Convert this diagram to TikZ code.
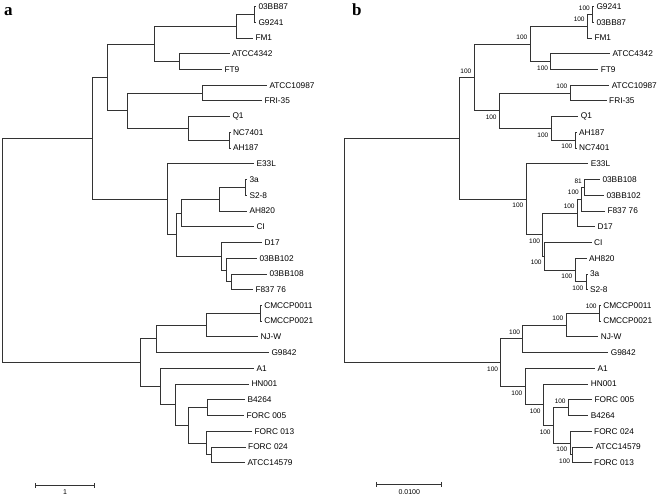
\documentclass[tikz,border=0pt]{standalone}
\usepackage{fontspec}
\setmainfont{Liberation Sans}
\newfontfamily\titlefont{Liberation Serif}
\begin{document}
\begin{tikzpicture}[x=1pt,y=-1pt,
  br/.style={draw=black!80, line width=0.8pt},
  lf/.style={anchor=west, inner xsep=2.5pt, inner ysep=0pt, outer sep=0pt, font=\fontsize{8.3}{9}\selectfont},
  bs/.style={anchor=east, inner sep=0pt, font=\fontsize{6.5}{7}\selectfont},
  scl/.style={inner sep=0pt, font=\fontsize{7}{8}\selectfont},
  ttl/.style={anchor=base west, inner sep=0pt, font=\titlefont\bfseries\fontsize{17}{17}\selectfont}]
\useasboundingbox (0,0) rectangle (661,498);

% ---------------- titles
\node[ttl] (ta) at (4,15) {a};
\node[ttl] (tb) at (352,15) {b};

% ================= panel a: leaves
\node[lf] (a03BB87) at (256,6.5) {03BB87};
\node[lf] (aG9241) at (256,22.23) {G9241};
\node[lf] (aFM1) at (253,37.96) {FM1};
\node[lf] (aATCC4342) at (229.5,53.69) {ATCC4342};
\node[lf] (aFT9) at (222,69.42) {FT9};
\node[lf] (aATCC10987) at (267,85.15) {ATCC10987};
\node[lf] (aFRI35) at (262,100.88) {FRI-35};
\node[lf] (aQ1) at (230,116.61) {Q1};
\node[lf] (aNC7401) at (230.5,132.34) {NC7401};
\node[lf] (aAH187) at (230.5,148.07) {AH187};
\node[lf] (aE33L) at (254,163.8) {E33L};
\node[lf] (a3a) at (247,179.53) {3a};
\node[lf] (aS28) at (247,195.26) {S2-8};
\node[lf] (aAH820) at (247,210.99) {AH820};
\node[lf] (aCI) at (254,226.72) {CI};
\node[lf] (aD17) at (262,242.45) {D17};
\node[lf] (a03BB102) at (257,258.18) {03BB102};
\node[lf] (a03BB108) at (267,273.91) {03BB108};
\node[lf] (aF83776) at (253,289.64) {F837 76};
\node[lf] (aCMCCP0011) at (261.8,305.37) {CMCCP0011};
\node[lf] (aCMCCP0021) at (261.8,321.1) {CMCCP0021};
\node[lf] (aNJW) at (258,336.83) {NJ-W};
\node[lf] (aG9842) at (269,352.56) {G9842};
\node[lf] (aA1) at (254,368.29) {A1};
\node[lf] (aHN001) at (249,384.02) {HN001};
\node[lf] (aB4264) at (245,399.75) {B4264};
\node[lf] (aFORC005) at (244,415.48) {FORC 005};
\node[lf] (aFORC013) at (252,431.21) {FORC 013};
\node[lf] (aFORC024) at (245.7,446.94) {FORC 024};
\node[lf] (aATCC14579) at (245,462.67) {ATCC14579};

% panel a: internal nodes
\coordinate (aF) at (254.3,14.4);
\coordinate (aE) at (236.7,26.2);
\coordinate (aD) at (179,61.6);
\coordinate (aC) at (154.5,43.9);
\coordinate (aH) at (202.3,93.0);
\coordinate (aJ) at (229,140.2);
\coordinate (aI) at (188.3,128.4);
\coordinate (aG) at (127.3,110.7);
\coordinate (aB) at (107.2,77.3);
\coordinate (aP) at (245.5,187.4);
\coordinate (aO) at (219.5,199.2);
\coordinate (aM) at (181,213.0);
\coordinate (aN3) at (231.7,281.8);
\coordinate (aN2) at (226,270.0);
\coordinate (aN) at (221.7,256.2);
\coordinate (aL) at (176.7,234.6);
\coordinate (aK) at (167,199.2);
\coordinate (aA) at (92.5,138.2);
\coordinate (aS) at (260.3,313.2);
\coordinate (aR) at (206,325.0);
\coordinate (aQ) at (156.7,338.8);
\coordinate (aW) at (207.7,407.6);
\coordinate (aY) at (211.5,454.8);
\coordinate (aX) at (206.7,443.0);
\coordinate (aV) at (188.3,425.3);
\coordinate (aU) at (175.5,404.7);
\coordinate (aU0) at (160,386.5);
\coordinate (aT) at (140.7,362.6);
\coordinate (aRoot) at (2.5,250.4);

% panel a: branches
\draw[br] (aF) |- (a03BB87.west);
\draw[br] (aF) |- (aG9241.west);
\draw[br] (aE) |- (aF);
\draw[br] (aE) |- (aFM1.west);
\draw[br] (aD) |- (aATCC4342.west);
\draw[br] (aD) |- (aFT9.west);
\draw[br] (aC) |- (aE);
\draw[br] (aC) |- (aD);
\draw[br] (aH) |- (aATCC10987.west);
\draw[br] (aH) |- (aFRI35.west);
\draw[br] (aJ) |- (aNC7401.west);
\draw[br] (aJ) |- (aAH187.west);
\draw[br] (aI) |- (aQ1.west);
\draw[br] (aI) |- (aJ);
\draw[br] (aG) |- (aH);
\draw[br] (aG) |- (aI);
\draw[br] (aB) |- (aC);
\draw[br] (aB) |- (aG);
\draw[br] (aP) |- (a3a.west);
\draw[br] (aP) |- (aS28.west);
\draw[br] (aO) |- (aP);
\draw[br] (aO) |- (aAH820.west);
\draw[br] (aM) |- (aO);
\draw[br] (aM) |- (aCI.west);
\draw[br] (aN3) |- (a03BB108.west);
\draw[br] (aN3) |- (aF83776.west);
\draw[br] (aN2) |- (a03BB102.west);
\draw[br] (aN2) |- (aN3);
\draw[br] (aN) |- (aD17.west);
\draw[br] (aN) |- (aN2);
\draw[br] (aL) |- (aM);
\draw[br] (aL) |- (aN);
\draw[br] (aK) |- (aE33L.west);
\draw[br] (aK) |- (aL);
\draw[br] (aA) |- (aB);
\draw[br] (aA) |- (aK);
\draw[br] (aS) |- (aCMCCP0011.west);
\draw[br] (aS) |- (aCMCCP0021.west);
\draw[br] (aR) |- (aS);
\draw[br] (aR) |- (aNJW.west);
\draw[br] (aQ) |- (aR);
\draw[br] (aQ) |- (aG9842.west);
\draw[br] (aW) |- (aB4264.west);
\draw[br] (aW) |- (aFORC005.west);
\draw[br] (aY) |- (aFORC024.west);
\draw[br] (aY) |- (aATCC14579.west);
\draw[br] (aX) |- (aFORC013.west);
\draw[br] (aX) |- (aY);
\draw[br] (aV) |- (aW);
\draw[br] (aV) |- (aX);
\draw[br] (aU) |- (aHN001.west);
\draw[br] (aU) |- (aV);
\draw[br] (aU0) |- (aA1.west);
\draw[br] (aU0) |- (aU);
\draw[br] (aT) |- (aQ);
\draw[br] (aT) |- (aU0);
\draw[br] (aRoot) |- (aA);
\draw[br] (aRoot) |- (aT);

% panel a: scale bar
\coordinate (sa1) at (35,485.7);
\coordinate (sa2) at (94.3,485.7);
\draw[br] (sa1) -- (sa2);
\draw[br] ([yshift=2.5pt]sa1) -- ([yshift=-2.5pt]sa1);
\draw[br] ([yshift=2.5pt]sa2) -- ([yshift=-2.5pt]sa2);
\node[scl] (sla) at (65,492.5) {1};

% ================= panel b: leaves
\node[lf] (bG9241) at (594,6.5) {G9241};
\node[lf] (b03BB87) at (594,22.23) {03BB87};
\node[lf] (bFM1) at (592,37.96) {FM1};
\node[lf] (bATCC4342) at (610,53.69) {ATCC4342};
\node[lf] (bFT9) at (598.3,69.42) {FT9};
\node[lf] (bATCC10987) at (609.3,85.15) {ATCC10987};
\node[lf] (bFRI35) at (606.7,100.88) {FRI-35};
\node[lf] (bQ1) at (578.3,116.61) {Q1};
\node[lf] (bAH187) at (576.5,132.34) {AH187};
\node[lf] (bNC7401) at (576.5,148.07) {NC7401};
\node[lf] (bE33L) at (588.3,163.8) {E33L};
\node[lf] (b03BB108) at (600,179.53) {03BB108};
\node[lf] (b03BB102) at (604,195.26) {03BB102};
\node[lf] (bF83776) at (605,210.99) {F837 76};
\node[lf] (bD17) at (595,226.72) {D17};
\node[lf] (bCI) at (591.7,242.45) {CI};
\node[lf] (bAH820) at (586.7,258.18) {AH820};
\node[lf] (b3a) at (587.5,273.91) {3a};
\node[lf] (bS28) at (587.5,289.64) {S2-8};
\node[lf] (bCMCCP0011) at (600.8,305.37) {CMCCP0011};
\node[lf] (bCMCCP0021) at (600.8,321.1) {CMCCP0021};
\node[lf] (bNJW) at (598.3,336.83) {NJ-W};
\node[lf] (bG9842) at (608.3,352.56) {G9842};
\node[lf] (bA1) at (595,368.29) {A1};
\node[lf] (bHN001) at (588.3,384.02) {HN001};
\node[lf] (bFORC005) at (592,399.75) {FORC 005};
\node[lf] (bB4264) at (588.3,415.48) {B4264};
\node[lf] (bFORC024) at (591.7,431.21) {FORC 024};
\node[lf] (bATCC14579) at (593.3,446.94) {ATCC14579};
\node[lf] (bFORC013) at (591.7,462.67) {FORC 013};

% panel b: internal nodes
\coordinate (bF) at (592.5,14.4);
\coordinate (bE) at (587.3,26.2);
\coordinate (bD) at (550.7,61.6);
\coordinate (bC) at (530,43.9);
\coordinate (bH) at (570,93.0);
\coordinate (bJ) at (575,140.2);
\coordinate (bI) at (551,128.4);
\coordinate (bG) at (499.3,110.7);
\coordinate (bB) at (474,77.3);
\coordinate (bP1) at (584.5,187.4);
\coordinate (bP2) at (581.5,199.2);
\coordinate (bP3) at (577.3,213.0);
\coordinate (bU1) at (586,281.8);
\coordinate (bU2) at (575,270.0);
\coordinate (bU3) at (544.3,256.2);
\coordinate (bL) at (542.7,234.6);
\coordinate (bK) at (526,199.2);
\coordinate (bA) at (459.5,138.2);
\coordinate (bV4) at (599.3,313.2);
\coordinate (bV3) at (566,325.0);
\coordinate (bV1) at (522.7,338.8);
\coordinate (bV7) at (568.3,407.6);
\coordinate (bV9) at (572.7,454.8);
\coordinate (bV8) at (570,443.0);
\coordinate (bV6) at (553.3,425.3);
\coordinate (bV5) at (543.3,404.7);
\coordinate (bV2) at (525,386.5);
\coordinate (bT) at (500.7,362.6);
\coordinate (bRoot) at (344,250.4);

% panel b: branches
\draw[br] (bF) |- (bG9241.west);
\draw[br] (bF) |- (b03BB87.west);
\draw[br] (bE) |- (bF);
\draw[br] (bE) |- (bFM1.west);
\draw[br] (bD) |- (bATCC4342.west);
\draw[br] (bD) |- (bFT9.west);
\draw[br] (bC) |- (bE);
\draw[br] (bC) |- (bD);
\draw[br] (bH) |- (bATCC10987.west);
\draw[br] (bH) |- (bFRI35.west);
\draw[br] (bJ) |- (bAH187.west);
\draw[br] (bJ) |- (bNC7401.west);
\draw[br] (bI) |- (bQ1.west);
\draw[br] (bI) |- (bJ);
\draw[br] (bG) |- (bH);
\draw[br] (bG) |- (bI);
\draw[br] (bB) |- (bC);
\draw[br] (bB) |- (bG);
\draw[br] (bP1) |- (b03BB108.west);
\draw[br] (bP1) |- (b03BB102.west);
\draw[br] (bP2) |- (bP1);
\draw[br] (bP2) |- (bF83776.west);
\draw[br] (bP3) |- (bP2);
\draw[br] (bP3) |- (bD17.west);
\draw[br] (bU1) |- (b3a.west);
\draw[br] (bU1) |- (bS28.west);
\draw[br] (bU2) |- (bAH820.west);
\draw[br] (bU2) |- (bU1);
\draw[br] (bU3) |- (bCI.west);
\draw[br] (bU3) |- (bU2);
\draw[br] (bL) |- (bP3);
\draw[br] (bL) |- (bU3);
\draw[br] (bK) |- (bE33L.west);
\draw[br] (bK) |- (bL);
\draw[br] (bA) |- (bB);
\draw[br] (bA) |- (bK);
\draw[br] (bV4) |- (bCMCCP0011.west);
\draw[br] (bV4) |- (bCMCCP0021.west);
\draw[br] (bV3) |- (bV4);
\draw[br] (bV3) |- (bNJW.west);
\draw[br] (bV1) |- (bV3);
\draw[br] (bV1) |- (bG9842.west);
\draw[br] (bV7) |- (bFORC005.west);
\draw[br] (bV7) |- (bB4264.west);
\draw[br] (bV9) |- (bATCC14579.west);
\draw[br] (bV9) |- (bFORC013.west);
\draw[br] (bV8) |- (bFORC024.west);
\draw[br] (bV8) |- (bV9);
\draw[br] (bV6) |- (bV7);
\draw[br] (bV6) |- (bV8);
\draw[br] (bV5) |- (bHN001.west);
\draw[br] (bV5) |- (bV6);
\draw[br] (bV2) |- (bA1.west);
\draw[br] (bV2) |- (bV5);
\draw[br] (bT) |- (bV1);
\draw[br] (bT) |- (bV2);
\draw[br] (bRoot) |- (bA);
\draw[br] (bRoot) |- (bT);

% panel b: bootstrap values
\node[bs] (bsF) at (590,7.9) {100};
\node[bs] (bsE) at (584.8,19.7) {100};
\node[bs] (bsC) at (527.5,37.4) {100};
\node[bs] (bsD) at (548.2,68.1) {100};
\node[bs] (bsB) at (471.5,70.8) {100};
\node[bs] (bsG) at (496.8,117.2) {100};
\node[bs] (bsH) at (567.5,86.5) {100};
\node[bs] (bsI) at (548.5,134.9) {100};
\node[bs] (bsJ) at (572.5,146.7) {100};
\node[bs] (bsK) at (523.5,205.7) {100};
\node[bs] (bsP1) at (582,180.9) {81};
\node[bs] (bsP2) at (579,192.7) {100};
\node[bs] (bsP3) at (574.8,206.5) {100};
\node[bs] (bsL) at (540.2,241.1) {100};
\node[bs] (bsU3) at (541.8,262.7) {100};
\node[bs] (bsU2) at (572.5,276.5) {100};
\node[bs] (bsU1) at (583.5,288.3) {100};
\node[bs] (bsT) at (498.2,369.1) {100};
\node[bs] (bsV1) at (520.2,332.3) {100};
\node[bs] (bsV3) at (563.5,318.5) {100};
\node[bs] (bsV4) at (596.8,306.7) {100};
\node[bs] (bsV2) at (522.5,393) {100};
\node[bs] (bsV5) at (540.8,411.2) {100};
\node[bs] (bsV6) at (550.8,431.8) {100};
\node[bs] (bsV7) at (565.8,401.1) {100};
\node[bs] (bsV8) at (567.5,449.5) {100};
\node[bs] (bsV9) at (570.2,461.3) {100};

% panel b: scale bar
\coordinate (sb1) at (376.7,484.3);
\coordinate (sb2) at (441.7,484.3);
\draw[br] (sb1) -- (sb2);
\draw[br] ([yshift=2.5pt]sb1) -- ([yshift=-2.5pt]sb1);
\draw[br] ([yshift=2.5pt]sb2) -- ([yshift=-2.5pt]sb2);
\node[scl] (slb) at (409.3,492.3) {0.0100};
\end{tikzpicture}
\end{document}
